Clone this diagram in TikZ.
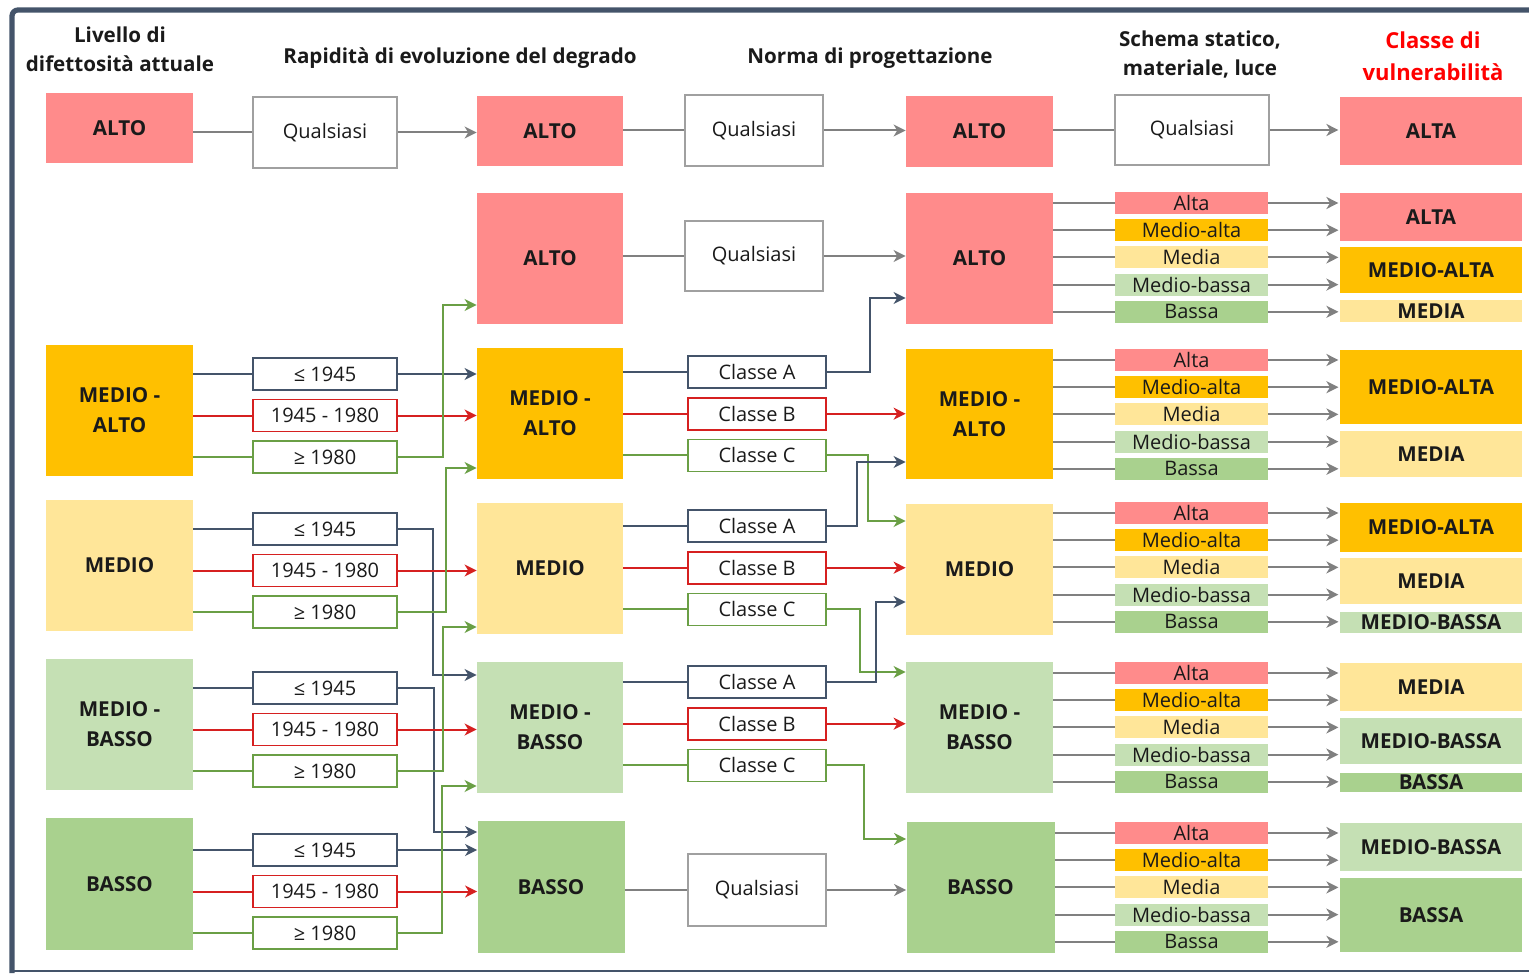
\documentclass[tikz,border=0pt]{standalone}
\usepackage{fontspec}
\setmainfont{Open Sans}
\usetikzlibrary{arrows.meta}

\definecolor{calto}{HTML}{FF8B8B}
\definecolor{cmalto}{HTML}{FFC000}
\definecolor{cmedio}{HTML}{FFE699}
\definecolor{cmbasso}{HTML}{C5E0B4}
\definecolor{cbasso}{HTML}{A9D18E}
\definecolor{cslate}{HTML}{44546A}
\definecolor{cred}{HTML}{D62020}
\definecolor{cgreen}{HTML}{6A9F45}
\definecolor{cgrey}{HTML}{808080}
\definecolor{ctext}{HTML}{1A1A1A}

\begin{document}
\begin{tikzpicture}[x=0.5pt, y=-0.5pt,
  sz/.style 2 args={minimum width=#1*0.5pt, minimum height=#2*0.5pt},
  basebox/.style={rectangle, inner sep=0pt, align=center, text=ctext},
  bigbox/.style={basebox, font=\bfseries\fontsize{10.3}{15}\selectfont},
  smallbox/.style={basebox, font=\fontsize{10}{12}\selectfont},
  qbox/.style={smallbox, draw=cgrey!75, line width=0.8pt, sz={138}{71}},
  yrbox/.style={smallbox, draw=#1, line width=0.8pt, sz={144}{32}},
  clbox/.style={smallbox, draw=#1, line width=0.8pt, sz={138}{32}},
  scbox/.style={smallbox, fill=#1, sz={153}{22}},
  vbox/.style={bigbox, fill=#1, draw=white, line width=0.6pt},
  hdr/.style={align=center, text=ctext, font=\bfseries\fontsize{10.3}{14.5}\selectfont},
  ln/.style={line width=1pt, draw=#1},
  arr/.style={-{Stealth[length=6pt, width=6pt, inset=1.8pt]}}
]
\useasboundingbox (0,0) rectangle (1529,973);

% frame
\draw[cslate, line width=2.6pt, rounded corners=3pt] (1529,10) -- (12,10) -- (12,973);
\draw[cslate, line width=1.1pt] (12,971) -- (1529,971);

% headers
\node[hdr] (hLiv) at (120,49) {Livello di\\difettosità attuale};
\node[hdr] (hRap) at (460,58) {Rapidità di evoluzione del degrado};
\node[hdr] (hNor) at (870,58) {Norma di progettazione};
\node[hdr] (hSch) at (1200,55) {Schema statico,\\materiale, luce};
\node[hdr, text=red, font=\bfseries\fontsize{11}{16}\selectfont] (hCla) at (1433,56) {Classe di\\vulnerabilità};

% livello di difettosita
\node[bigbox, fill=calto, sz={147}{70}] (lAL) at (119.5,128) {ALTO};
\node[bigbox, fill=cmalto, sz={147}{131}] (lMA) at (119.5,410.5) {MEDIO -\\ALTO};
\node[bigbox, fill=cmedio, sz={147}{131}] (lME) at (119.5,565.5) {MEDIO};
\node[bigbox, fill=cmbasso, sz={147}{131}] (lMB) at (119.5,724.5) {MEDIO -\\BASSO};
\node[bigbox, fill=cbasso, sz={147}{132}] (lBA) at (119.5,884) {BASSO};

% rapidita di evoluzione
\node[qbox, sz={144}{71}] (rQ) at (325,132.5) {Qualsiasi};
\foreach \g/\y in {MA/374, ME/529, MB/688, BA/850} {
  \node[yrbox=cslate] (r\g1) at (325,\y) {≤ 1945};
  \node[yrbox=cred] (r\g2) at (325,\y+41.5) {1945 - 1980};
  \node[yrbox=cgreen] (r\g3) at (325,\y+83) {≥ 1980};
}

% degrado
\node[bigbox, fill=calto, sz={146}{70}] (dAL0) at (550,131) {ALTO};
\node[bigbox, fill=calto, sz={146}{131}] (dAL) at (550,258.5) {ALTO};
\node[bigbox, fill=cmalto, sz={146}{131}] (dMA) at (550,413.5) {MEDIO -\\ALTO};
\node[bigbox, fill=cmedio, sz={146}{131}] (dME) at (550,568.5) {MEDIO};
\node[bigbox, fill=cmbasso, sz={146}{131}] (dMB) at (550,727.5) {MEDIO -\\BASSO};
\node[bigbox, fill=cbasso, sz={147}{132}] (dBA) at (551,887) {BASSO};

% norma di progettazione
\node[qbox] (nQ0) at (754,130.5) {Qualsiasi};
\node[qbox, sz={138}{70}] (nQ1) at (754,256) {Qualsiasi};
\foreach \g/\y in {MA/372, ME/526, MB/682} {
  \node[clbox=cslate] (n\g1) at (757,\y) {Classe A};
  \node[clbox=cred] (n\g2) at (757,\y+41.7) {Classe B};
  \node[clbox=cgreen] (n\g3) at (757,\y+83.4) {Classe C};
}
\node[qbox, sz={138}{72}] (nQ2) at (757,890) {Qualsiasi};

% degrado dopo la norma
\node[bigbox, fill=calto, sz={147}{71}] (pAL0) at (979.5,131.5) {ALTO};
\node[bigbox, fill=calto, sz={147}{131}] (pAL) at (979.5,258.5) {ALTO};
\node[bigbox, fill=cmalto, sz={147}{130}] (pMA) at (979.5,414) {MEDIO -\\ALTO};
\node[bigbox, fill=cmedio, sz={147}{131}] (pME) at (979.5,569.5) {MEDIO};
\node[bigbox, fill=cmbasso, sz={147}{131}] (pMB) at (979.5,727.5) {MEDIO -\\BASSO};
\node[bigbox, fill=cbasso, sz={148}{131}] (pBA) at (980.5,887.5) {BASSO};

% classe di vulnerabilita
\node[vbox=calto, sz={184}{70}] (vAL0) at (1431,131) {ALTA};
\node[vbox=calto, sz={184}{50}] (v1a) at (1431,217) {ALTA};
\node[vbox=cmalto, sz={184}{48}] (v1b) at (1431,270) {MEDIO-ALTA};
\node[vbox=cmedio, sz={184}{24}] (v1c) at (1431,311) {MEDIA};
\node[vbox=cmalto, sz={184}{76}] (v2a) at (1431,387) {MEDIO-ALTA};
\node[vbox=cmedio, sz={184}{48}] (v2b) at (1431,454) {MEDIA};
\node[vbox=cmalto, sz={184}{51}] (v3a) at (1431,527.5) {MEDIO-ALTA};
\node[vbox=cmedio, sz={184}{48}] (v3b) at (1431,581) {MEDIA};
\node[vbox=cmbasso, sz={184}{23}] (v3c) at (1431,622.5) {MEDIO-BASSA};
\node[vbox=cmedio, sz={184}{50}] (v4a) at (1431,687) {MEDIA};
\node[vbox=cmbasso, sz={184}{48}] (v4b) at (1431,741) {MEDIO-BASSA};
\node[vbox=cbasso, sz={184}{21}] (v4c) at (1431,782.5) {BASSA};
\node[vbox=cmbasso, sz={184}{50}] (v5a) at (1431,847) {MEDIO-BASSA};
\node[vbox=cbasso, sz={184}{76}] (v5b) at (1431,915) {BASSA};

% livello -> rapidita
\draw[ln=cgrey] (lAL.east |- rQ.west) -- (rQ.west);
\foreach \g in {MA, ME, MB, BA}
  \foreach \k/\c in {1/cslate, 2/cred, 3/cgreen}
    \draw[ln=\c] (l\g.east |- r\g\k.west) -- (r\g\k.west);

% rapidita -> degrado
\draw[ln=cgrey, arr] (rQ.east) -- (dAL0.west |- rQ.east);
\draw[ln=cslate, arr] (rMA1.east) -- (dMA.west |- rMA1.east);
\draw[ln=cred, arr] (rMA2.east) -- (dMA.west |- rMA2.east);
\draw[ln=cgreen, arr] (rMA3.east) -| (443,305) -- (dAL.west |- 0,305);
\draw[ln=cslate, arr] (rME1.east) -| (433,675) -- (dMB.west |- 0,675);
\draw[ln=cred, arr] (rME2.east) -- (dME.west |- rME2.east);
\draw[ln=cgreen, arr] (rME3.east) -| (446,468) -- (dMA.west |- 0,468);
\draw[ln=cslate, arr] (rMB1.east) -| (434,832) -- (dBA.west |- 0,832);
\draw[ln=cred, arr] (rMB2.east) -- (dMB.west |- rMB2.east);
\draw[ln=cgreen, arr] (rMB3.east) -| (443,627) -- (dME.west |- 0,627);
\draw[ln=cslate, arr] (rBA1.east) -- (dBA.west |- rBA1.east);
\draw[ln=cred, arr] (rBA2.east) -- (dBA.west |- rBA2.east);
\draw[ln=cgreen, arr] (rBA3.east) -| (442,786) -- (dMB.west |- 0,786);

% degrado -> norma
\draw[ln=cgrey] (dAL0.east |- nQ0.west) -- (nQ0.west);
\draw[ln=cgrey] (dAL.east |- nQ1.west) -- (nQ1.west);
\foreach \g in {MA, ME, MB}
  \foreach \k/\c in {1/cslate, 2/cred, 3/cgreen}
    \draw[ln=\c] (d\g.east |- n\g\k.west) -- (n\g\k.west);
\draw[ln=cgrey] (dBA.east |- nQ2.west) -- (nQ2.west);

% norma -> degrado dopo la norma
\draw[ln=cgrey, arr] (nQ0.east) -- (pAL0.west |- nQ0.east);
\draw[ln=cgrey, arr] (nQ1.east) -- (pAL.west |- nQ1.east);
\draw[ln=cslate, arr] (nMA1.east) -| (870,298) -- (pAL.west |- 0,298);
\draw[ln=cred, arr] (nMA2.east) -- (pMA.west |- nMA2.east);
\draw[ln=cgreen, arr] (nMA3.east) -| (868,521) -- (pME.west |- 0,521);
\draw[ln=cslate, arr] (nME1.east) -| (857,462) -- (pMA.west |- 0,462);
\draw[ln=cred, arr] (nME2.east) -- (pME.west |- nME2.east);
\draw[ln=cgreen, arr] (nME3.east) -| (860,672) -- (pMB.west |- 0,672);
\draw[ln=cslate, arr] (nMB1.east) -| (876,602) -- (pME.west |- 0,602);
\draw[ln=cred, arr] (nMB2.east) -- (pMB.west |- nMB2.east);
\draw[ln=cgreen, arr] (nMB3.east) -| (864,839) -- (pBA.west |- 0,839);
\draw[ln=cgrey, arr] (nQ2.east) -- (pBA.west |- nQ2.east);

% schema statico, materiale, luce
\node[qbox, sz={154}{70}] (sQ) at (1192,130) {Qualsiasi};
\draw[ln=cgrey] (pAL0.east |- sQ.west) -- (sQ.west);
\draw[ln=cgrey, arr] (sQ.east) -- (vAL0.west |- sQ.east);
\foreach \g/\p/\ytop/\tgs in {1/pAL/192/{a,a,b,b,c}, 2/pMA/349/{a,a,a,b,b},
    3/pME/502/{a,a,b,b,c}, 4/pMB/662/{a,a,b,b,c}, 5/pBA/822/{a,a,b,b,b}} {
  \foreach \lab/\c [count=\k] in {Alta/calto, Medio-alta/cmalto, Media/cmedio,
      Medio-bassa/cmbasso, Bassa/cbasso} {
    \node[scbox=\c] (s\g\k) at (1191.5,\ytop+11+27.2*\k-27.2) {\lab};
    \draw[ln=cgrey] (\p.east |- s\g\k.west) -- (s\g\k.west);
  }
  \foreach \t [count=\k] in \tgs
    \draw[ln=cgrey, arr] (s\g\k.east) -- (v\g\t.west |- s\g\k.east);
}
\end{tikzpicture}
\end{document}
